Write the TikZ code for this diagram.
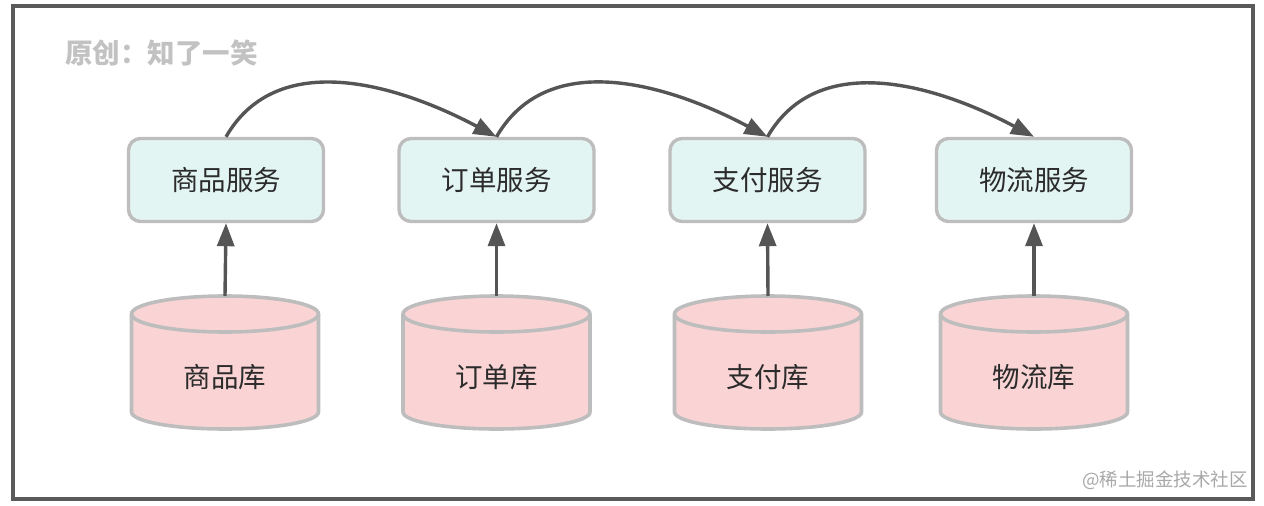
\documentclass[tikz,border=0pt]{standalone}
\usepackage{fontspec}
\setmainfont{Noto Sans CJK SC}
\usetikzlibrary{arrows.meta}
\definecolor{framec}{HTML}{5A5A5A}
\definecolor{edgec}{HTML}{BDBDBD}
\definecolor{svcfill}{HTML}{E3F5F2}
\definecolor{dbfill}{HTML}{FAD4D4}
\definecolor{linec}{HTML}{555555}
\definecolor{textc}{HTML}{2B2B2B}
\definecolor{titlec}{HTML}{C2C2C2}
\definecolor{markc}{HTML}{A8A8A8}
\newcommand{\dbcyl}[1]{%
  \path[fill=dbfill,draw=edgec,line width=3.6pt]
    (#1-93.5,314) -- (#1-93.5,412) arc (180:360:93.5pt and 17pt)
    -- (#1+93.5,314) arc (0:180:93.5pt and 18pt) -- cycle;
  \draw[edgec,line width=3.6pt] (#1-93.5,314) arc (180:360:93.5pt and 18pt);
}
\begin{document}
\begin{tikzpicture}[x=1pt,y=-1pt,
  svc/.style={draw=edgec,fill=svcfill,line width=3.4pt,rounded corners=12pt,
    minimum width=195pt,minimum height=83pt,inner sep=0pt,
    text=textc,font=\fontsize{27.5}{32}\selectfont},
  dbtext/.style={inner sep=0pt,text=textc,font=\fontsize{27.5}{32}\selectfont},
  conn/.style={draw=linec,line width=3.4pt,-{Triangle[width=17pt,length=23pt]}}]
\useasboundingbox (0,0) rectangle (1264,506);
\draw[framec,line width=4pt] (12.5,5.5) rectangle (1252.5,499);

\node[anchor=west,inner sep=0pt,text=titlec,font=\bfseries\fontsize{27.5}{32}\selectfont] (title) at (65,53) {原创：知了一笑};
\node[anchor=east,inner sep=0pt,text=markc,font=\fontsize{18.5}{22}\selectfont] (mark) at (1248,480) {@稀土掘金技术社区};

\node[svc] (s1) at (226,180) {商品服务};
\node[svc] (s2) at (496.5,180) {订单服务};
\node[svc] (s3) at (767.5,180) {支付服务};
\node[svc] (s4) at (1034,180) {物流服务};

\dbcyl{225}
\dbcyl{496.5}
\dbcyl{768}
\dbcyl{1034}
\node[dbtext] (d1) at (225,377) {商品库};
\node[dbtext] (d2) at (496.5,377) {订单库};
\node[dbtext] (d3) at (768,377) {支付库};
\node[dbtext] (d4) at (1034,377) {物流库};
\coordinate (t1) at (225,296);
\coordinate (t2) at (496.5,296);
\coordinate (t3) at (768,296);
\coordinate (t4) at (1034,296);

\draw[conn] (t1) -- (s1.south);
\draw[conn] (t2) -- (s2.south);
\draw[conn] (t3) -- (s3.south);
\draw[conn] (t4) -- (s4.south);

\draw[conn] (s1.north) to[out=60,in=152] (s2.north);
\draw[conn] (s2.north) to[out=60,in=152] (s3.north);
\draw[conn] (s3.north) to[out=60,in=152] (s4.north);
\end{tikzpicture}
\end{document}
